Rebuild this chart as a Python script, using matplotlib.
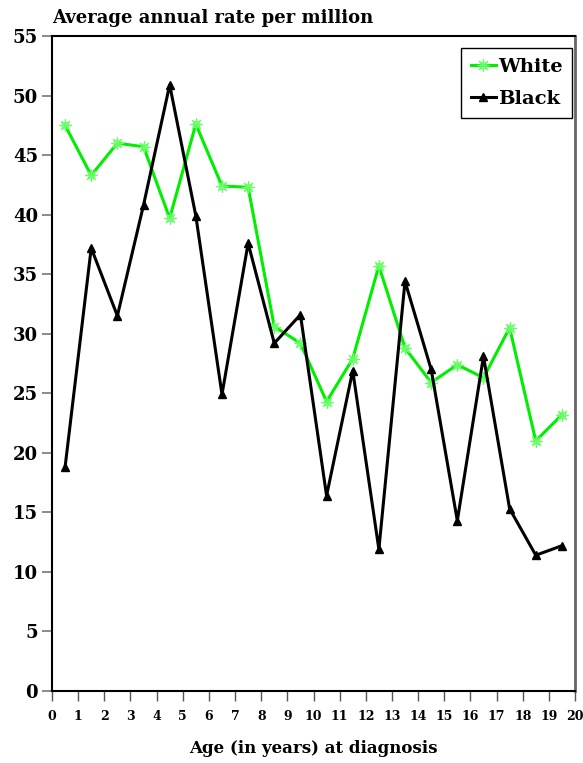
import matplotlib
matplotlib.use('Agg')
import matplotlib.pyplot as plt
from matplotlib.legend_handler import HandlerTuple

# data
ages = [0.5, 1.5, 2.5, 3.5, 4.5, 5.5, 6.5, 7.5, 8.5, 9.5,
        10.5, 11.5, 12.5, 13.5, 14.5, 15.5, 16.5, 17.5, 18.5, 19.5]
white = [47.5, 43.3, 46.0, 45.7, 39.7, 47.6, 42.4, 42.3, 30.6, 29.2,
         24.3, 27.9, 35.7, 28.8, 25.9, 27.4, 26.3, 30.5, 21.0, 23.2]
black = [18.8, 37.2, 31.5, 40.8, 50.9, 39.9, 24.9, 37.6, 29.2, 31.6,
         16.4, 26.9, 11.9, 34.4, 27.0, 14.3, 28.1, 15.3, 11.4, 12.2]
xticks = list(range(0, 21))
yticks = list(range(0, 60, 5))

plt.rcParams['font.family'] = ['DejaVu Serif']
plt.rcParams['font.weight'] = 'bold'

fig = plt.figure(figsize=(5.83, 7.63), dpi=100)
ax = fig.add_axes([52 / 583, 72 / 763, 523 / 583, 655 / 763])

green = '#00ee00'
wl, = ax.plot(ages, white, color=green, lw=2.2, marker='o', ms=5,
              mfc='none', mec='#66ff66', mew=0.8, zorder=3)
ws, = ax.plot(ages, white, ls='none', marker=(8, 2, 0), ms=9,
              mec='#66ff66', mew=0.8, zorder=3)
bl, = ax.plot(ages, black, color='black', lw=2.2, marker='^', ms=6,
              mfc='black', mec='black', zorder=4)

ax.set_xlim(0, 20)
ax.set_ylim(0, 55)
ax.set_xticks(xticks)
ax.set_yticks(yticks)
ax.tick_params(axis='x', length=7, width=1, color='#555555', labelsize=9, pad=7)
ax.tick_params(axis='y', length=7, width=1.2, color='#777777', labelsize=13, pad=3)
for lab in ax.get_xticklabels() + ax.get_yticklabels():
    lab.set_fontweight('bold')

for s in ['left', 'bottom', 'top']:
    ax.spines[s].set_color('black')
    ax.spines[s].set_linewidth(1.5)
ax.spines['right'].set_color('#666666')
ax.spines['right'].set_linewidth(2)

fig.text(52 / 583, 1 - 18 / 763, 'Average annual rate per million',
         fontsize=13, fontweight='bold', va='center', ha='left')
ax.set_xlabel('Age (in years) at diagnosis', fontsize=12, fontweight='bold', labelpad=12)

leg = ax.legend([(wl, ws), bl], ['White', 'Black'],
                handler_map={tuple: HandlerTuple(ndivide=1, pad=0)},
                loc='upper right', bbox_to_anchor=(0.995, 0.982),
                borderaxespad=0.0,
                prop={'size': 14, 'weight': 'bold'}, fancybox=False,
                edgecolor='black', framealpha=1, handlelength=1.3,
                handletextpad=0.1, borderpad=0.5, labelspacing=0.75)
leg.get_frame().set_linewidth(1)

fig.savefig('out.png', dpi=100)
